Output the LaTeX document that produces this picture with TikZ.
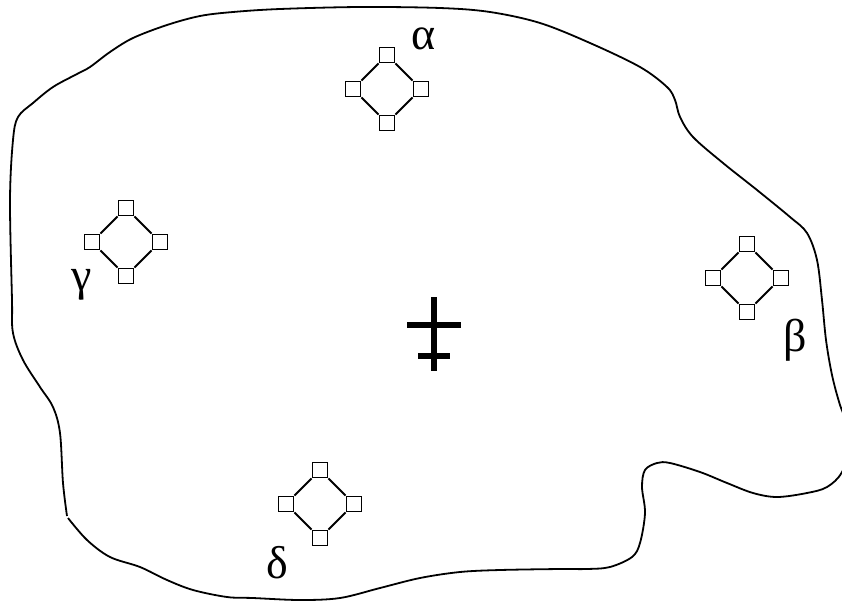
\documentclass[tikz,border=0pt]{standalone}
\usepackage{fontspec}
\setmainfont{Liberation Serif}
\usetikzlibrary{positioning}

\begin{document}
\begin{tikzpicture}[x=1pt,y=-1pt,%
		   port/.style={draw,rectangle,minimum size=15pt,inner sep=0pt,line width=1.8pt},
		   ring/.style={line width=1.8pt},
		   greek/.style={font=\fontsize{46}{50}\selectfont,inner sep=0pt},
		   outline/.style={line width=1.8pt,line join=round},
		   bar/.style={line width=5.5pt}]

	\useasboundingbox (0,0) rectangle (842,600);
	\clip (0,0) rectangle (842,600);

	% the region
	\draw[outline] plot[smooth,tension=0.55] coordinates {%
		(67,516) (63,483) (60,433) (53,407) (40,387) (23,360) (13,333) (12,300)
		(10,200) (13,140) (18,117) (33,103) (53,87) (77,74) (90,67) (110,52)
		(133,38) (167,25) (200,16) (233,12) (280,9) (360,7) (440,8) (490,12)
		(540,23) (590,43) (640,67) (667,87) (675,100) (680,117) (693,137)
		(723,163) (757,190) (790,217) (807,233) (817,260) (822,300) (826,340)
		(832,375) (840,405) (852,440) (842,472) (827,487) (807,493) (777,497)
		(753,493) (727,483) (700,472) (670,463) (657,463) (645,470) (642,487)
		(645,513) (640,543) (632,557) (610,567) (587,569) (560,569) (500,570)
		(460,572) (420,578) (380,588) (340,598) (300,600) (253,598) (227,597)
		(193,590) (167,580) (140,567) (110,557) (87,540) (68,518)};

	% four sites
	\foreach \site/\cx/\cy in {alpha/387/89, beta/747/278, gamma/126/242, delta/320/504} {
		\node[port] (\site-n) at (\cx,\cy-34) {};
		\node[port] (\site-s) at (\cx,\cy+34) {};
		\node[port] (\site-w) at (\cx-34,\cy) {};
		\node[port] (\site-e) at (\cx+34,\cy) {};
		\draw[ring] (\site-n.south east) -- (\site-e.north west)
			(\site-e.south west) -- (\site-s.north east)
			(\site-s.north west) -- (\site-w.south east)
			(\site-w.north east) -- (\site-n.south west);
	}

	\foreach \site/\lx/\ly/\glyph in {alpha/424/49/α, beta/795/351/β, gamma/82/290/γ, delta/277/578/δ}
		\node[greek,anchor=base] (lab-\site) at (\lx,\ly) {\glyph};

	% centre mark
	\draw[bar] (434,297) -- (434,371);
	\draw[bar] (407,325) -- (461,325);
	\draw[bar] (418,356) -- (450,356);
\end{tikzpicture}
\end{document}
